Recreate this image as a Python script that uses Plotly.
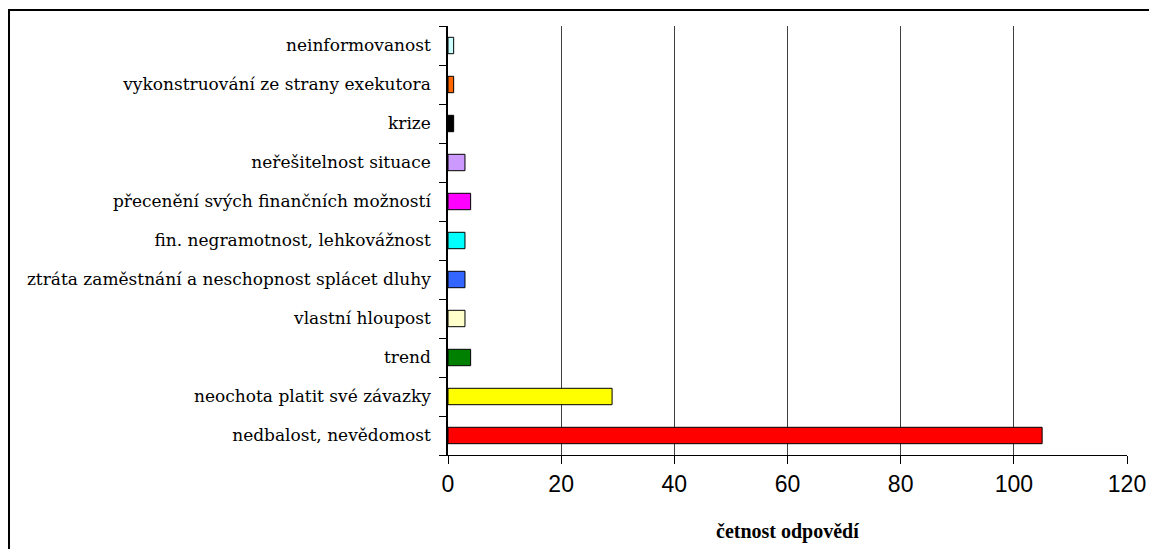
import plotly.graph_objects as go

categories = [
    "nedbalost, nevědomost",
    "neochota platit své závazky",
    "trend",
    "vlastní hloupost",
    "ztráta zaměstnání a neschopnost splácet dluhy",
    "fin. negramotnost, lehkovážnost",
    "přecenění svých finančních možností",
    "neřešitelnost situace",
    "krize",
    "vykonstruování ze strany exekutora",
    "neinformovanost",
]
values = [105, 29, 4, 3, 3, 3, 4, 3, 1, 1, 1]
colors = ["#FF0000", "#FFFF00", "#008000", "#FFFFCC", "#3366FF", "#00FFFF",
          "#FF00FF", "#CC99FF", "#000000", "#FF6600", "#CCFFFF"]
x_ticks = [0, 20, 40, 60, 80, 100, 120]
x_title = "četnost odpovědí"

# page body has an 8px margin; figure coordinates = screen - 8
W, H = 1141, 541
L, T = 440, 18
R = W - 1119
B = H - 447
pw, ph = W - L - R, H - T - B

fig = go.Figure(go.Bar(
    x=values, y=categories, orientation="h",
    marker=dict(color=colors, line=dict(color="#000000", width=1)),
    width=0.42, hoverinfo="x+y",
))

fig.update_layout(
    width=W, height=H,
    margin=dict(l=L, r=R, t=T, b=B, pad=0, autoexpand=False),
    paper_bgcolor="white", plot_bgcolor="white",
    showlegend=False,
    xaxis=dict(
        range=[0, 120], tickvals=x_ticks, ticks="outside", ticklen=8,
        tickcolor="#000000", showgrid=True, gridcolor="#404040", gridwidth=1,
        showline=True, linecolor="#000000", linewidth=1,
        tickfont=dict(family="Liberation Sans, Arial", size=23, color="#000000"),
        zeroline=False, automargin=False,
    ),
    yaxis=dict(
        type="category", categoryorder="array", categoryarray=categories,
        ticks="outside", ticklen=7, tickcolor="#000000", tickson="boundaries",
        showline=True, linecolor="#000000", linewidth=1.5,
        showgrid=False, automargin=False, ticklabelstandoff=12,
        tickfont=dict(family="DejaVu Serif", size=17, color="#000000"),
        range=[-0.5, len(categories) - 0.5],
    ),
    annotations=[dict(
        text="<b>" + x_title + "</b>", xref="paper", yref="paper",
        x=0.5, y=(447 - 523) / ph, xanchor="center", yanchor="middle",
        showarrow=False,
        font=dict(family="Liberation Serif, Times New Roman", size=20, color="#000000"),
    )],
    shapes=[
        dict(type="line", xref="paper", yref="paper",
             x0=(1 - L) / pw, x1=(1 - L) / pw,
             y0=(447 - H - 5) / ph, y1=(447 - 1) / ph,
             line=dict(color="#000000", width=2)),
        dict(type="line", xref="paper", yref="paper",
             x0=(0 - L) / pw, x1=(W + 5 - L) / pw,
             y0=(447 - 2) / ph, y1=(447 - 2) / ph,
             line=dict(color="#000000", width=2)),
    ],
)

fig.write_html("out.html")
